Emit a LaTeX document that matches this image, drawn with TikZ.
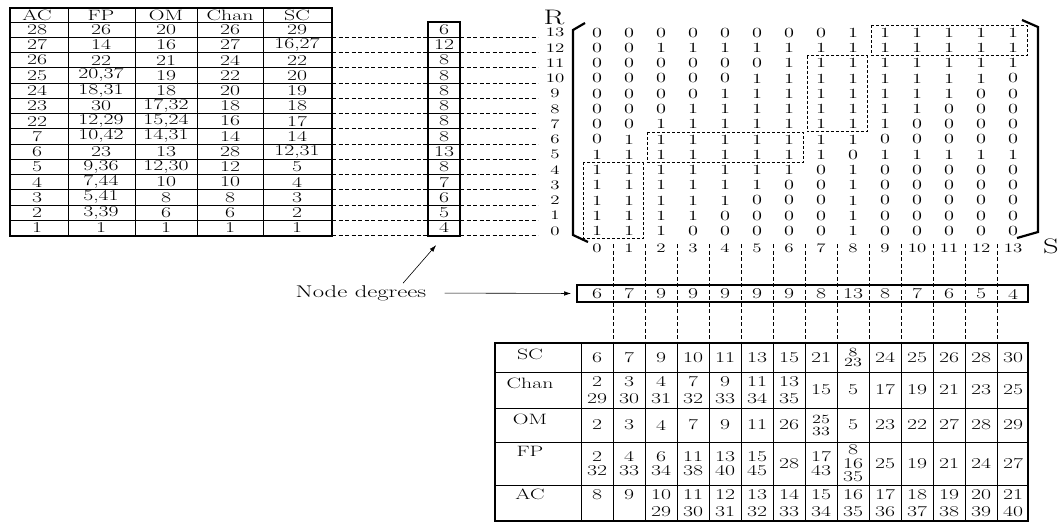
\documentclass[tikz,border=0pt]{standalone}
\usepackage{fontspec}
\usepackage{tikz}
\usetikzlibrary{arrows.meta,positioning}

\tikzset{
  tabtext/.style={font=\fontsize{15}{16}\selectfont},
  headtext/.style={font=\fontsize{15}{16}\selectfont},
  entry/.style={font=\fontsize{14}{15}\selectfont},
  axislabel/.style={font=\fontsize{13}{14}\selectfont},
  axisname/.style={font=\fontsize{21}{22}\selectfont},
  cellstack/.style={font=\fontsize{15}{#1}\selectfont, align=center},
  tightstack/.style={font=\fontsize{12.5}{#1}\selectfont, align=center},
  tabframe/.style={line width=1.8pt},
  tabrule/.style={line width=0.6pt},
  guideline/.style={line width=0.5pt, dash pattern=on 4pt off 2.5pt},
  blockline/.style={line width=0.5pt, dash pattern=on 3pt off 2pt},
  matbracket/.style={line width=2.2pt, line join=miter},
  degarrow/.style={line width=0.6pt, -{Latex[length=7pt, width=4.5pt]}},
}

\begin{document}
\begin{tikzpicture}[x=0.68966pt, y=-1pt, xscale=1.45,
    every node/.append style={transform shape, inner sep=0pt}]
\useasboundingbox (0,0) rectangle (1062,523);

% left table
\draw[tabrule] \foreach \i in {0,...,13} {(10,{22+15.25*\i}) -- (332,{22+15.25*\i})};
\draw[tabrule] \foreach \x in {68,135,197,263} {(\x,8) -- (\x,236)};
\draw[tabframe] (10,8) rectangle (332,236);
\foreach \hd/\x in {AC/37, FP/101, OM/166, Chan/230, SC/297}
  \node[headtext] (head\hd) at (\x,15.5) {\hd};

% row degrees box
\draw[tabrule] \foreach \i in {1,...,13} {(428,{22+15.25*\i}) -- (460,{22+15.25*\i})};
\draw[tabframe] (428,22) rectangle (460,236);

\foreach \ac/\fp/\om/\ch/\sc/\dg [count=\i from 0] in {
    28/26/20/26/29/6, 27/14/16/27/{16,27}/12, 26/22/21/24/22/8,
    25/{20,37}/19/22/20/8, 24/{18,31}/18/20/19/8, 23/30/{17,32}/18/18/8,
    22/{12,29}/{15,24}/16/17/8, 7/{10,42}/{14,31}/14/14/8, 6/23/13/28/{12,31}/13,
    5/{9,36}/{12,30}/12/5/8, 4/{7,44}/10/10/4/7, 3/{5,41}/8/8/3/6,
    2/{3,39}/6/6/2/5, 1/1/1/1/1/4}
{
  \pgfmathsetmacro{\y}{29.6+15.25*\i}
  \pgfmathtruncatemacro{\r}{13-\i}
  \node[tabtext] (ac\i) at (37,\y) {\ac};
  \node[tabtext] (fp\i) at (101,\y) {\fp};
  \node[tabtext] (om\i) at (166,\y) {\om};
  \node[tabtext] (ch\i) at (230,\y) {\ch};
  \node[tabtext] (sc\i) at (297,\y) {\sc};
  \node[tabtext] (rd\i) at (444,\y) {\dg};
  \node[axislabel] (rl\i) at (555,{\y+3}) {\r};
  \draw[guideline] (332,{\y+7.6}) -- (428,{\y+7.6}) (460,{\y+7.6}) -- (538,{\y+7.6});
}

% matrix
\node[axisname] (rname) at (554,17) {R};
\node[axisname] (sname) at (1051,246) {S};
\foreach \rowvals [count=\i from 0] in {
    {0,0,0,0,0,0,0,0,1,1,1,1,1,1},
    {0,0,1,1,1,1,1,1,1,1,1,1,1,1},
    {0,0,0,0,0,0,1,1,1,1,1,1,1,1},
    {0,0,0,0,0,1,1,1,1,1,1,1,1,0},
    {0,0,0,0,1,1,1,1,1,1,1,1,0,0},
    {0,0,0,1,1,1,1,1,1,1,1,0,0,0},
    {0,0,1,1,1,1,1,1,1,1,0,0,0,0},
    {0,1,1,1,1,1,1,1,1,0,0,0,0,0},
    {1,1,1,1,1,1,1,1,0,1,1,1,1,1},
    {1,1,1,1,1,1,1,0,1,0,0,0,0,0},
    {1,1,1,1,1,1,0,0,1,0,0,0,0,0},
    {1,1,1,1,1,0,0,0,1,0,0,0,0,0},
    {1,1,1,1,0,0,0,0,1,0,0,0,0,0},
    {1,1,1,0,0,0,0,0,1,0,0,0,0,0}}
  \foreach \v [count=\k from 0] in \rowvals
    \node[entry] (m\i-\k) at ({597+32*\k},{32.6+15.25*\i}) {\v};

\foreach \ca/\cb/\ia/\ib in {9/13/0/1, 7/8/2/6, 2/6/7/8, 0/1/9/13}
  \draw[blockline] ({597+32*\ca-14},{32.6+15.25*\ia-7.6})
    rectangle ({597+32*\cb+14},{32.6+15.25*\ib+7.6});

\draw[matbracket] (585,23) -- (573,30) -- (573,235) -- (588,242);
\draw[matbracket] (1022,20) -- (1038,27) -- (1038,232) -- (1017,238);

% column degrees
\draw[guideline] \foreach \k in {1,...,13} {({581+32*\k},244) -- ({581+32*\k},343)};
\draw[tabframe] (577,285) rectangle (1028,302);
\coordinate (coldegW) at (577,293.5);
\coordinate (rowdegS) at (444,236);
\foreach \dg [count=\k from 0] in {6,7,9,9,9,9,9,8,13,8,7,6,5,4} {
  \node[axislabel] (cl\k) at ({597+32*\k},248) {\k};
  \node[tabtext] (cd\k) at ({597+32*\k},294) {\dg};
}

\node[font=\fontsize{17}{18}\selectfont] (degtext) at (361,293) {Node degrees};
\draw[degarrow, shorten <=18pt, shorten >=6pt] (degtext.east) -- (coldegW);
\draw[degarrow, shorten >=12pt] (degtext.north) ++(42,-2) -- (rowdegS);

% bottom table
\draw[tabrule] \foreach \y in {372,408,442,485} {(495,\y) -- (1028,\y)};
\draw[tabrule] \foreach \k in {0,...,13} {({581+32*\k},343) -- ({581+32*\k},521)};
\draw[line width=1.2pt] (495,343) rectangle (1028,521);
\draw[line width=2.6pt] (495,342.4) -- (495,521.6);
\draw[line width=2pt] (1028,342.4) -- (1028,521.6);
\foreach \hd/\y in {SC/354, Chan/383, OM/419, FP/451, AC/494}
  \node[tabtext] (bh\hd) at (530,\y) {\hd};

\foreach \val [count=\k from 0] in {6,7,9,10,11,13,15,21}
  \node[cellstack=16] (bsc\k) at ({597+32*\k},357.5) {\val};
\node[tightstack=10.5] (bsc8) at ({597+32*8},357.5) {8\\23};
\foreach \val [count=\k from 9] in {24,25,26,28,30}
  \node[cellstack=16] (bsc\k) at ({597+32*\k},357.5) {\val};
\foreach \val [count=\k from 0] in {{2\\29},{3\\30},{4\\31},{7\\32},{9\\33},{11\\34},{13\\35},15,5,17,19,21,23,25}
  \node[cellstack=17] (bch\k) at ({597+32*\k},390) {\val};
\foreach \val [count=\k from 0] in {2,3,4,7,9,11,26}
  \node[cellstack=16] (bom\k) at ({597+32*\k},425) {\val};
\node[tightstack=12] (bom7) at ({597+32*7},425) {25\\33};
\foreach \val [count=\k from 8] in {5,23,22,27,28,29}
  \node[cellstack=16] (bom\k) at ({597+32*\k},425) {\val};
\foreach \val [count=\k from 0] in {{2\\32},{4\\33},{6\\34},{11\\38},{13\\40},{15\\45},28,{17\\43},{8\\16\\35},25,19,21,24,27}
  \node[cellstack=13.5] (bfp\k) at ({597+32*\k},463.5) {\val};
\foreach \val [count=\k from 0] in {{8\\\phantom{0}},{9\\\phantom{0}},{10\\29},{11\\30},{12\\31},{13\\32},{14\\33},{15\\34},{16\\35},{17\\36},{18\\37},{19\\38},{20\\39},{21\\40}}
  \node[cellstack=17] (bac\k) at ({597+32*\k},503) {\val};
\end{tikzpicture}
\end{document}
